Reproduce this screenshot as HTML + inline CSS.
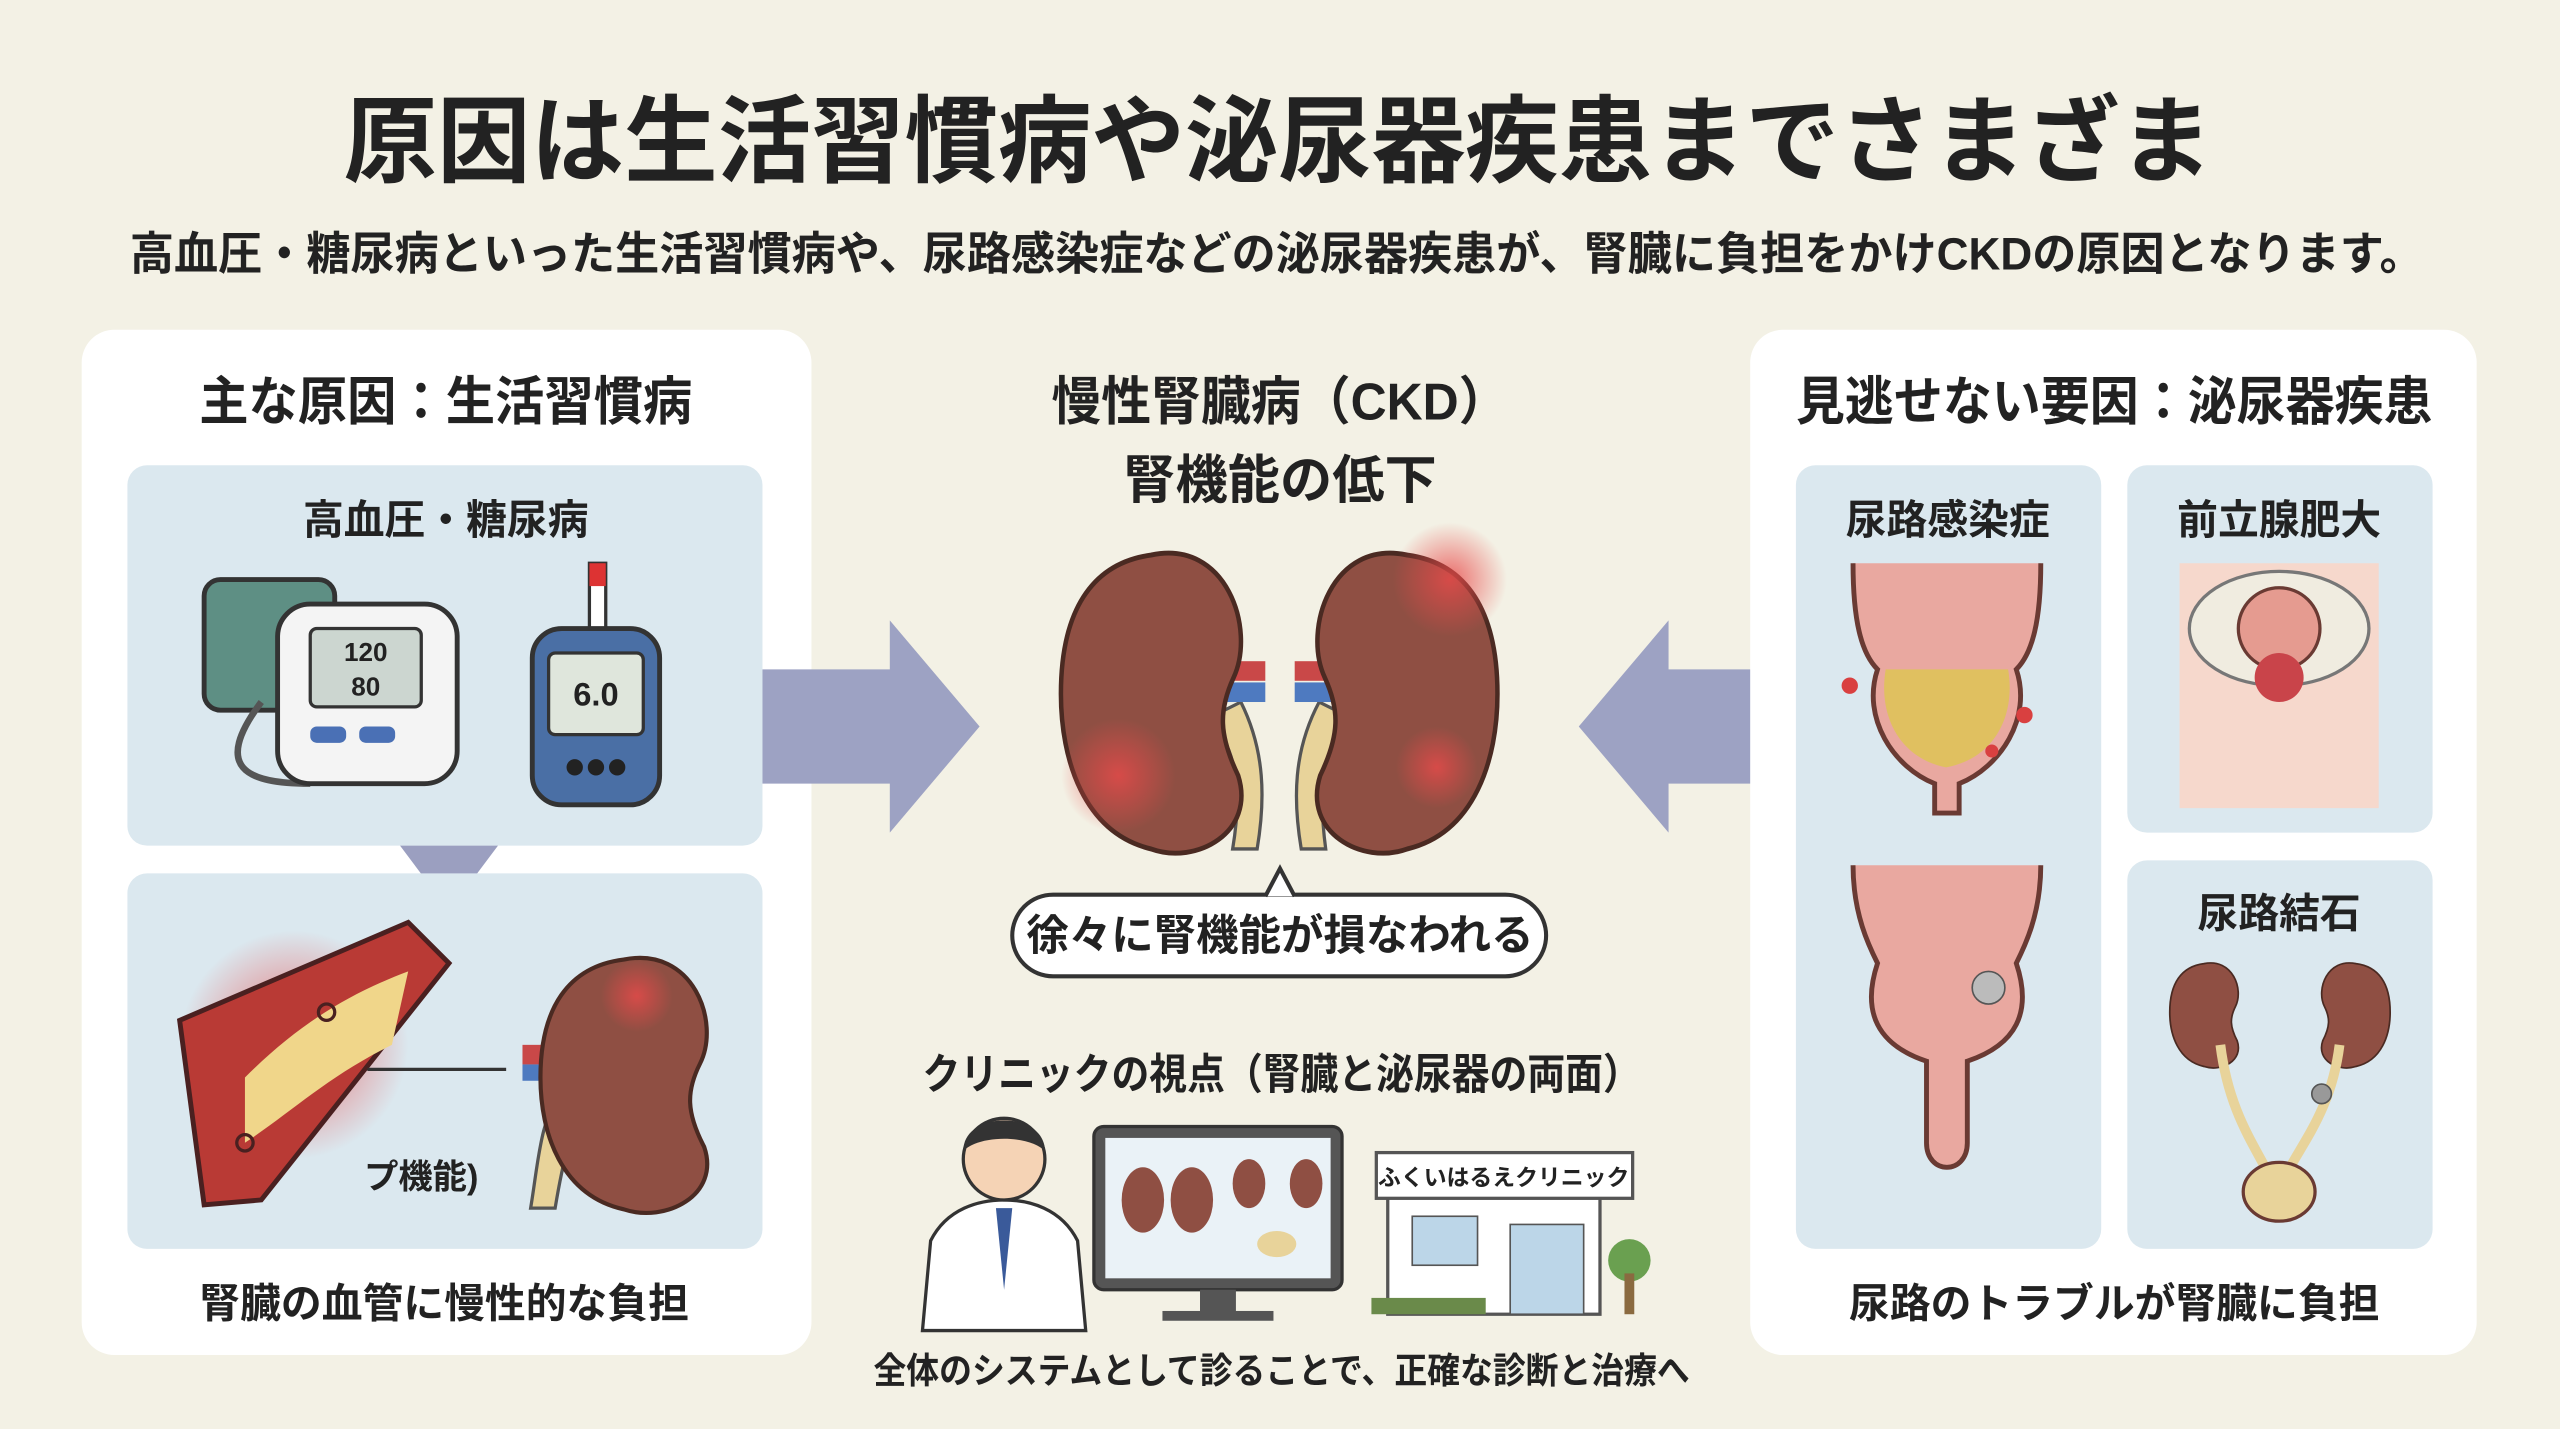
<!DOCTYPE html>
<html><head><meta charset="utf-8"><style>
html,body{margin:0;padding:0;background:#f3f1e5;}
svg{display:block}
text{font-family:"Liberation Sans","Noto Sans CJK JP",sans-serif;font-weight:bold;fill:#222;}
</style></head><body>
<svg width="2560" height="1429" viewBox="0 0 1568 875.3" xmlns="http://www.w3.org/2000/svg">
<defs>
<radialGradient id="red" cx="50%" cy="50%" r="50%"><stop offset="0" stop-color="#e84a4a" stop-opacity=".8"/><stop offset="1" stop-color="#e84a4a" stop-opacity="0"/></radialGradient>
<g id="kid"><path d="M0,-85 C50,-95 70,-40 55,-10 C45,10 45,25 58,50 C70,85 30,105 0,95 C-45,85 -60,40 -60,0 C-60,-50 -40,-80 0,-85Z" fill="#8f4f43" stroke="#4a2a22" stroke-width="3"/></g>
</defs>
<rect width="1568" height="876" fill="#f3f1e5"/>
<text x="783" y="107" font-size="58" text-anchor="middle" fill="#1e1e1e" textLength="1145" lengthAdjust="spacingAndGlyphs">原因は生活習慣病や泌尿器疾患までさまざま</text>
<text x="782" y="165" font-size="28" text-anchor="middle" textLength="1405" lengthAdjust="spacingAndGlyphs">高血圧・糖尿病といった生活習慣病や、尿路感染症などの泌尿器疾患が、腎臓に負担をかけCKDの原因となります。</text>

<!-- left panel -->
<rect x="50" y="202" width="447" height="628" rx="20" fill="#fff"/>
<text x="273" y="257" font-size="32" text-anchor="middle" textLength="302" lengthAdjust="spacingAndGlyphs">主な原因：生活習慣病</text>
<rect x="78" y="285" width="389" height="233" rx="12" fill="#dbe8ef"/>
<text x="273" y="327" font-size="25" text-anchor="middle">高血圧・糖尿病</text>
<rect x="125" y="355" width="80" height="80" rx="10" fill="#5e8f84" stroke="#333" stroke-width="3"/>
<path d="M160,430 C130,470 150,480 190,480" fill="none" stroke="#555" stroke-width="4"/>
<rect x="170" y="370" width="110" height="110" rx="20" fill="#f4f4f4" stroke="#333" stroke-width="3"/>
<rect x="190" y="385" width="68" height="48" rx="4" fill="#ccd6d0" stroke="#333" stroke-width="2"/>
<text x="224" y="405" font-size="16" text-anchor="middle">120</text>
<text x="224" y="426" font-size="16" text-anchor="middle">80</text>
<rect x="190" y="445" width="22" height="10" rx="4" fill="#4a70b5"/><rect x="220" y="445" width="22" height="10" rx="4" fill="#4a70b5"/>
<rect x="361" y="345" width="10" height="45" fill="#fff" stroke="#333" stroke-width="2"/><rect x="361" y="345" width="10" height="14" fill="#d33"/>
<rect x="326" y="385" width="78" height="108" rx="18" fill="#4a6fa5" stroke="#333" stroke-width="3"/>
<rect x="336" y="400" width="58" height="50" rx="4" fill="#dfe6dc" stroke="#333" stroke-width="2"/>
<text x="365" y="432" font-size="20" text-anchor="middle">6.0</text>
<circle cx="352" cy="470" r="5" fill="#222"/><circle cx="365" cy="470" r="5" fill="#222"/><circle cx="378" cy="470" r="5" fill="#222"/>
<path d="M245,518 L305,518 L275,558Z" fill="#9b9fc0"/>
<rect x="78" y="535" width="389" height="230" rx="12" fill="#dbe8ef"/>
<circle cx="180" cy="640" r="70" fill="url(#red)"/>
<path d="M110,625 L250,565 L275,590 L160,735 L125,738Z" fill="#b93a35" stroke="#4a2020" stroke-width="3"/>
<path d="M150,660 C180,630 210,610 250,595 L240,640 C200,660 180,680 150,700Z" fill="#f0d68a"/>
<circle cx="150" cy="700" r="5" fill="none" stroke="#4a2020" stroke-width="2"/><circle cx="200" cy="620" r="5" fill="none" stroke="#4a2020" stroke-width="2"/>
<path d="M225,655 L310,655" stroke="#333" stroke-width="2"/>
<text x="258" y="728" font-size="21" text-anchor="middle">プ機能)</text>
<rect x="320" y="640" width="28" height="12" fill="#c94848"/><rect x="320" y="652" width="28" height="10" fill="#4e7ac0"/>
<path d="M345,662 C330,690 330,710 325,740 L340,740 C345,710 350,690 360,670Z" fill="#e8d39a" stroke="#555" stroke-width="2"/>
<g transform="translate(382,660) scale(.85)"><use href="#kid"/></g>
<circle cx="390" cy="610" r="22" fill="url(#red)"/>
<text x="272" y="807" font-size="25" text-anchor="middle">腎臓の血管に慢性的な負担</text>

<!-- arrows -->
<path d="M467,410 L545,410 L545,380 L600,445 L545,510 L545,480 L467,480Z" fill="#9da2c3"/>
<path d="M1100,410 L1022,410 L1022,380 L967,445 L1022,510 L1022,480 L1100,480Z" fill="#9da2c3"/>

<!-- center -->
<text x="784" y="257" font-size="32" text-anchor="middle" textLength="280" lengthAdjust="spacingAndGlyphs">慢性腎臓病（CKD）</text>
<text x="784" y="305" font-size="32" text-anchor="middle">腎機能の低下</text>
<path d="M740,440 C760,460 760,490 755,520 L770,520 C775,490 775,460 760,430Z" fill="#e8d39a" stroke="#555" stroke-width="2"/>
<path d="M828,440 C808,460 808,490 812,520 L797,520 C792,490 792,460 808,430Z" fill="#e8d39a" stroke="#555" stroke-width="2"/>
<rect x="735" y="405" width="40" height="12" fill="#c94848"/><rect x="735" y="418" width="40" height="12" fill="#4e7ac0"/>
<rect x="793" y="405" width="40" height="12" fill="#c94848"/><rect x="793" y="418" width="40" height="12" fill="#4e7ac0"/>
<g transform="translate(705,425) scale(.92,1)"><use href="#kid"/></g>
<g transform="translate(862,425) scale(-.92,1)"><use href="#kid"/></g>
<circle cx="888" cy="355" r="35" fill="url(#red)"/><circle cx="685" cy="475" r="35" fill="url(#red)"/><circle cx="880" cy="470" r="25" fill="url(#red)"/>
<rect x="620" y="548" width="327" height="50" rx="25" fill="#fff" stroke="#333" stroke-width="2.5"/>
<path d="M775,549 L784,532 L793,549" fill="#fff" stroke="#333" stroke-width="2.5"/>
<text x="784" y="582" font-size="26" text-anchor="middle">徐々に腎機能が損なわれる</text>
<text x="785" y="667" font-size="26" text-anchor="middle" textLength="440" lengthAdjust="spacingAndGlyphs">クリニックの視点（腎臓と泌尿器の両面）</text>
<path d="M565,815 L570,760 C580,740 600,735 615,735 C630,735 650,740 660,760 L665,815Z" fill="#fff" stroke="#333" stroke-width="2"/>
<path d="M610,740 L615,790 L620,740Z" fill="#3a5a9a"/>
<circle cx="615" cy="710" r="25" fill="#f5d3b5" stroke="#333" stroke-width="2"/>
<path d="M590,705 C590,680 640,680 640,705 C630,695 600,695 590,705Z" fill="#333"/>
<rect x="670" y="690" width="152" height="100" rx="6" fill="#555" stroke="#333" stroke-width="2"/>
<rect x="677" y="697" width="138" height="86" fill="#eaf2f7"/>
<rect x="735" y="790" width="22" height="15" fill="#555"/><rect x="712" y="803" width="68" height="6" fill="#555"/>
<ellipse cx="700" cy="735" rx="13" ry="20" fill="#8f4f43"/><ellipse cx="730" cy="735" rx="13" ry="20" fill="#8f4f43"/>
<ellipse cx="765" cy="725" rx="10" ry="15" fill="#8f4f43"/><ellipse cx="800" cy="725" rx="10" ry="15" fill="#8f4f43"/>
<ellipse cx="782" cy="762" rx="12" ry="8" fill="#e8d39a"/>
<rect x="850" y="730" width="130" height="75" fill="#fff" stroke="#555" stroke-width="2"/>
<rect x="843" y="706" width="157" height="28" fill="#fff" stroke="#555" stroke-width="2"/>
<text x="921" y="726" font-size="14" text-anchor="middle" fill="#3a5a9a">ふくいはるえクリニック</text>
<rect x="865" y="745" width="40" height="30" fill="#bcd6e8" stroke="#555"/><rect x="925" y="750" width="45" height="55" fill="#bcd6e8" stroke="#555"/>
<rect x="840" y="795" width="70" height="10" fill="#6a8a4a"/>
<circle cx="998" cy="772" r="13" fill="#6aa050"/><rect x="995" y="780" width="6" height="25" fill="#8a6a40"/>
<text x="785" y="847" font-size="22" text-anchor="middle" textLength="500" lengthAdjust="spacingAndGlyphs">全体のシステムとして診ることで、正確な診断と治療へ</text>

<!-- right panel -->
<rect x="1072" y="202" width="445" height="628" rx="20" fill="#fff"/>
<text x="1295" y="257" font-size="32" text-anchor="middle" textLength="390" lengthAdjust="spacingAndGlyphs">見逃せない要因：泌尿器疾患</text>
<rect x="1100" y="285" width="187" height="480" rx="12" fill="#dbe8ef"/>
<rect x="1303" y="285" width="187" height="225" rx="12" fill="#dbe8ef"/>
<rect x="1303" y="527" width="187" height="238" rx="12" fill="#dbe8ef"/>
<text x="1193" y="327" font-size="25" text-anchor="middle">尿路感染症</text>
<text x="1396" y="327" font-size="25" text-anchor="middle">前立腺肥大</text>
<text x="1396" y="568" font-size="25" text-anchor="middle">尿路結石</text>
<path d="M1135,345 C1135,380 1140,400 1150,410 C1140,440 1160,470 1185,480 L1185,498 L1200,498 L1200,480 C1225,470 1245,440 1235,410 C1245,400 1250,380 1250,345" fill="#e9a8a0" stroke="#6a3a33" stroke-width="3"/>
<path d="M1155,410 C1150,440 1165,465 1192,470 C1220,465 1235,440 1230,410Z" fill="#e0c060"/>
<circle cx="1133" cy="420" r="5" fill="#d94040"/><circle cx="1240" cy="438" r="5" fill="#d94040"/><circle cx="1220" cy="460" r="4" fill="#d94040"/>
<path d="M1135,530 C1135,560 1145,580 1150,590 C1140,620 1150,640 1180,650 L1180,700 C1180,720 1205,720 1205,700 L1205,650 C1235,640 1245,620 1235,590 C1240,580 1250,560 1250,530" fill="#e9a8a0" stroke="#6a3a33" stroke-width="3"/>
<circle cx="1218" cy="605" r="10" fill="#bbb" stroke="#555"/>
<rect x="1335" y="345" width="122" height="150" fill="#f6d8cc"/>
<ellipse cx="1396" cy="385" rx="55" ry="35" fill="#f0ece0" stroke="#777" stroke-width="2"/>
<circle cx="1396" cy="385" r="25" fill="#e59b90" stroke="#6a3a33" stroke-width="2"/>
<circle cx="1396" cy="415" r="15" fill="#c9444a"/>
<g transform="translate(1350,620) scale(.35)"><use href="#kid"/></g>
<g transform="translate(1443,620) scale(-.35,.35)"><use href="#kid"/></g>
<path d="M1360,640 C1365,680 1380,700 1390,720 M1433,640 C1428,680 1410,700 1400,720" fill="none" stroke="#e8d39a" stroke-width="6"/>
<ellipse cx="1396" cy="730" rx="22" ry="18" fill="#e8d39a" stroke="#6a3a33" stroke-width="2"/>
<circle cx="1422" cy="670" r="6" fill="#999" stroke="#555"/>
<text x="1295" y="807" font-size="25" text-anchor="middle">尿路のトラブルが腎臓に負担</text>
</svg>
</body></html>
